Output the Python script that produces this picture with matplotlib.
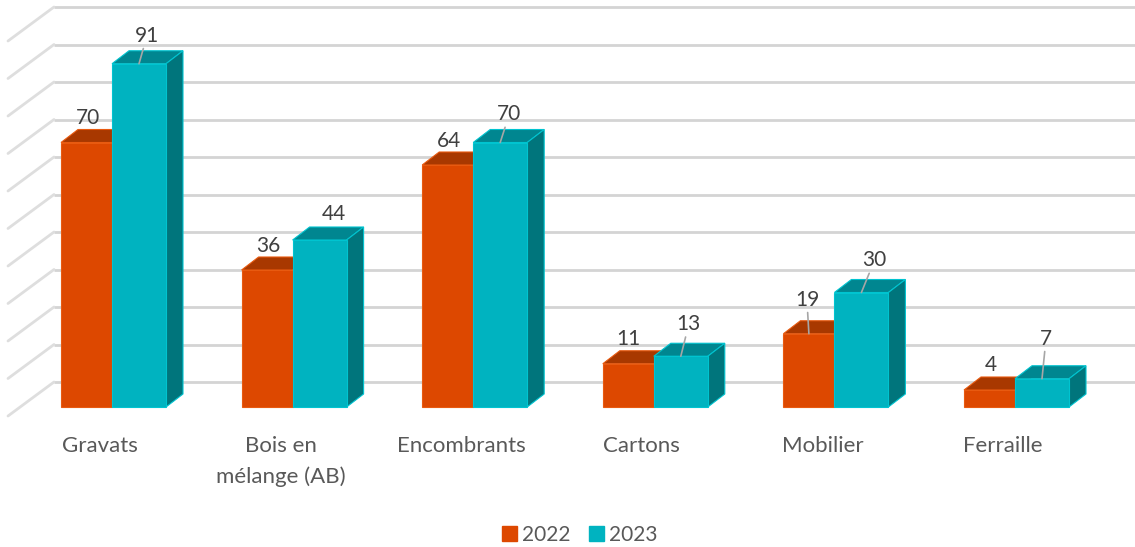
import matplotlib
matplotlib.use("Agg")
import matplotlib.pyplot as plt
from matplotlib.patches import Polygon, Patch

plt.rcParams['font.family'] = ['Lato', 'DejaVu Sans']

categories = ["Gravats", "Bois en\nmélange (AB)", "Encombrants", "Cartons", "Mobilier", "Ferraille"]
values_2022 = [70, 36, 64, 11, 19, 4]
values_2023 = [91, 44, 70, 13, 30, 7]
grid_values = [0, 10, 20, 30, 40, 50, 60, 70, 80, 90, 100]

# label shift from the middle of the bar top, in pixels (x, y up)
offsets_2022 = [(2, 25), (1, 24), (1, 24), (0, 25), (-2, 34), (1, 25)]
offsets_2023 = [(8, 28), (14, 26), (9, 28), (8, 32), (13, 32), (4, 40)]
leader_2022 = [False, False, False, False, True, False]
leader_2023 = [True, False, True, True, True, True]

PX_X = 180.6  # pixels per category
PX_Y = 3.75   # pixels per unit of value
W_2022 = 51 / PX_X
W_2023 = 54 / PX_X
DEPTH_X = 17 / PX_X
DEPTH_Y = 13 / PX_Y
BASE = -2 / PX_Y

ORANGE = ("#DD4800", "#A83800", "#E85A10")
TEAL = ("#00B3C0", "#008690", "#00C4D0")
TEAL_SIDE = "#00757C"


def draw_bar(ax, left, width, value, colors, side_color=None):
    front, top, edge = colors
    ax.bar(left, value - BASE, width, bottom=BASE, align='edge', color=front,
           edgecolor=edge, linewidth=0.8, zorder=3)
    right = left + width
    ax.add_patch(Polygon([(left, value), (left + DEPTH_X, value + DEPTH_Y),
                          (right + DEPTH_X, value + DEPTH_Y), (right, value)],
                         facecolor=top, edgecolor=edge, linewidth=0.8, zorder=2.5))
    if side_color:
        ax.add_patch(Polygon([(right, BASE), (right + DEPTH_X, BASE + DEPTH_Y),
                              (right + DEPTH_X, value + DEPTH_Y), (right, value)],
                             facecolor=side_color, edgecolor=edge, linewidth=0.8, zorder=2.5))


def add_label(ax, x, value, text, offset, leader):
    arrow = None
    if leader:
        arrow = dict(arrowstyle='-', color='#A6A6A6', lw=1.2, shrinkA=0, shrinkB=0)
    ax.annotate(text, xy=(x, value), xytext=offset, textcoords='offset pixels',
                ha='center', va='center', fontsize=15, color='#404040',
                arrowprops=arrow, zorder=6)


fig = plt.figure(figsize=(11.35, 5.47), dpi=100)
ax = fig.add_axes([0, 0, 1, 1])
ax.set_xlim(-112 / PX_X, (1135 - 112) / PX_X)
ax.set_ylim(-142 / PX_Y, 405 / PX_Y)
ax.axis('off')

# back wall and side wall lines
wall_x = -58 / PX_X
wall_y = 23 / PX_Y
for v in grid_values:
    ax.plot([wall_x, ax.get_xlim()[1]], [v + wall_y, v + wall_y], color='#D4D4D4', lw=2, zorder=1,
            solid_capstyle='butt')
    ax.plot([wall_x, wall_x - 46 / PX_X], [v + wall_y, v + wall_y - 34 / PX_Y], color='#DEDEDE',
            lw=2, zorder=1, solid_capstyle='round')

for i, name in enumerate(categories):
    draw_bar(ax, i - W_2022, W_2022, values_2022[i], ORANGE)
    draw_bar(ax, i, W_2023, values_2023[i], TEAL, TEAL_SIDE)
    add_label(ax, i - W_2022 / 2, values_2022[i], str(values_2022[i]), offsets_2022[i], leader_2022[i])
    add_label(ax, i + W_2023 / 2, values_2023[i], str(values_2023[i]), offsets_2023[i], leader_2023[i])
    ax.text(i - 12 / PX_X, -31.5 / PX_Y, name, ha='center', va='top', fontsize=16, color='#595959',
            linespacing=1.6)

handles = [Patch(color=ORANGE[0], label="2022"), Patch(color=TEAL[0], label="2023")]
fig.legend(handles=handles, loc='center', bbox_to_anchor=(580 / 1135, 1 - 535 / 547), ncol=2,
           frameon=False, fontsize=15, handlelength=0.7, handleheight=0.7, handletextpad=0.25,
           columnspacing=0.9, labelcolor='#595959')

fig.savefig("out.png", dpi=100)
